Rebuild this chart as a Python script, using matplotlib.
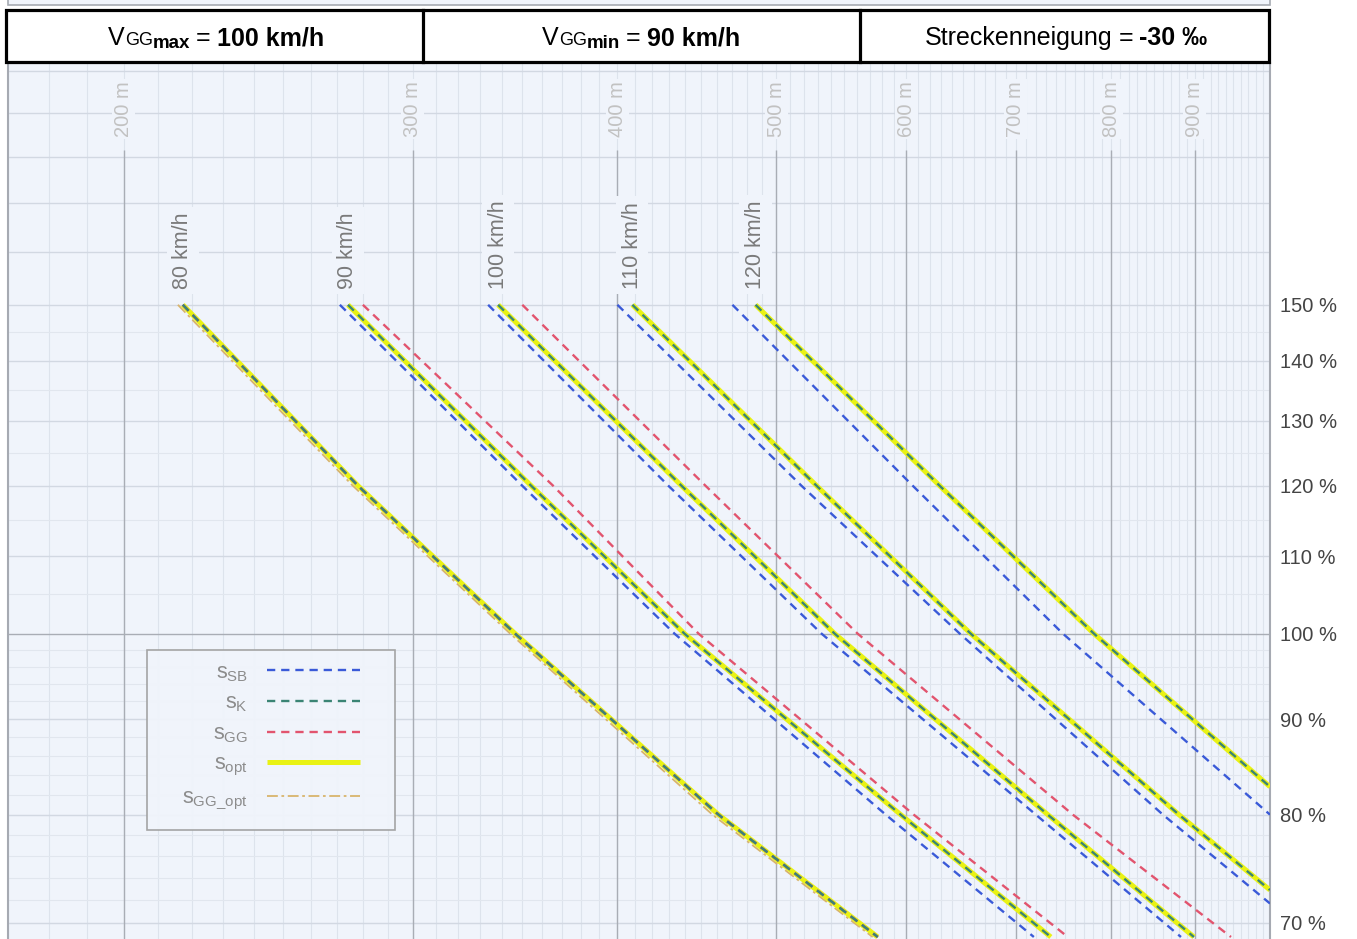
import numpy as np
import matplotlib.pyplot as plt
from matplotlib.patches import Rectangle
from matplotlib.ticker import FixedLocator, FixedFormatter, NullLocator

W, H = 1357, 939
FONT = ['Liberation Sans', 'DejaVu Sans']
plt.rcParams['font.family'] = FONT
plt.rcParams['mathtext.default'] = 'regular'

# speeds of the curve groups (km/h)
speeds = [80, 90, 100, 110, 120]

# braking distance (m) / brake percentage (%)
sb_x = [[217.3, 277.9, 346.5, 461.0, 576.5],
        [270.9, 350.0, 433.4, 583.0, 717.8],
        [333.6, 429.7, 532.8, 719.8, 882.5],
        [400.0, 518.0, 646.9, 860.4, 1000.0],
        [470.1, 605.6, 747.7, 1000.0]]
sb_y = [[150, 120, 100, 80, 68.8],
        [150, 120, 100, 80, 68.8],
        [150, 120, 100, 80, 68.8],
        [150, 120, 100, 80, 71.7],
        [150, 120, 100, 80]]

opt_x = [[217.3, 277.9, 346.5, 461.0, 576.5],
         [274.0, 354.4, 439.5, 595.4, 735.1],
         [338.3, 437.7, 542.7, 732.0, 898.7],
         [408.5, 529.1, 656.9, 880.0, 1000.0],
         [485.6, 628.9, 781.0, 1000.0]]
opt_y = [[150, 120, 100, 80, 68.8],
         [150, 120, 100, 80, 68.8],
         [150, 120, 100, 80, 68.8],
         [150, 120, 100, 80, 72.9],
         [150, 120, 100, 82.8]]

# s_K lies on top of s_opt
k_x = opt_x
k_y = opt_y

gg_x = [[217.3, 277.9, 346.5, 461.0, 576.5],
        [279.8, 365.5, 448.3, 606.4, 752.9],
        [350.0, 452.7, 560.5, 758.2, 946.7]]
gg_y = [[150, 120, 100, 80, 68.8],
        [150, 120, 100, 80, 68.8],
        [150, 120, 100, 80, 68.8]]

ggopt_x = [215.8, 275.9, 344.1, 457.1, 572.4]
ggopt_y = [150, 120, 100, 80, 68.8]

dist_ticks = [200, 300, 400, 500, 600, 700, 800, 900]
pct_ticks = [70, 80, 90, 100, 110, 120, 130, 140, 150]

BG = '#f0f4fb'
C_SB = '#3a5ad8'
C_K = '#3a8474'
C_GG = '#e2546e'
C_OPT = '#e9f214'
C_GGOPT = '#d8b46c'

fig = plt.figure(figsize=(W / 100, H / 100), dpi=100)
ax = fig.add_axes([8 / W, 0, 1262 / W, (H - 63) / H])
ax.set_facecolor(BG)
ax.set_xscale('log')
ax.set_yscale('log')
ax.set_xlim(170, 1000)
ax.set_ylim(68.63, 202.1)

# grid
ax.vlines(np.arange(170, 1001, 10), 60, 210, colors='#dde3ec', lw=0.8, zorder=0)
ax.hlines(np.arange(66, 100, 2), 150, 1100, colors='#e1e6ee', lw=0.8, zorder=0)
ax.hlines(np.arange(105, 150, 10), 150, 1100, colors='#e1e6ee', lw=0.8, zorder=0)
ax.hlines([70, 80, 90, 110, 120, 130, 140, 150, 160, 170, 180, 190, 200], 150, 1100,
          colors='#d2d8e2', lw=1.0, zorder=0)
ax.vlines(dist_ticks, 60, 181.6, colors='#a9adb5', lw=1.0, zorder=1)
ax.axhline(100, color='#a9adb5', lw=1.0, zorder=1)

for d in dist_ticks:
    ax.text(d, 191, f'{d} m', rotation=90, ha='center', va='center', fontsize=14.5,
            color='#c2c2c2', zorder=2,
            bbox=dict(facecolor=BG, edgecolor='none', pad=1.5))

# curves
ax.plot(ggopt_x, ggopt_y, color=C_GGOPT, lw=1.3, dashes=(6, 2, 1.5, 2), zorder=2,
        label=r'$s_{GG\_opt}$')
for i, v in enumerate(speeds):
    ax.plot(opt_x[i], opt_y[i], color=C_OPT, lw=3.6, solid_capstyle='butt', zorder=3,
            label=r'$s_{opt}$' if i == 0 else None)
    ax.plot(sb_x[i], sb_y[i], color=C_SB, lw=1.7, dashes=(3.5, 2.5), zorder=4,
            label=r'$s_{SB}$' if i == 0 else None)
    if i < len(gg_x):
        ax.plot(gg_x[i], gg_y[i], color=C_GG, lw=1.7, dashes=(3.5, 2.5), zorder=5,
                label=r'$s_{GG}$' if i == 0 else None)
    ax.plot(k_x[i], k_y[i], color=C_K, lw=1.7, dashes=(3.5, 2.5), zorder=6,
            label=r'$s_{K}$' if i == 0 else None)
    ax.text(opt_x[i][0], 153, f'{v} km/h', rotation=90, ha='center', va='bottom',
            fontsize=15.5, color='#7a7a7a', zorder=2,
            bbox=dict(facecolor=BG, edgecolor='none', pad=4))

# axes styling
ax.yaxis.tick_right()
ax.yaxis.set_major_locator(FixedLocator(pct_ticks))
ax.yaxis.set_major_formatter(FixedFormatter([f'{p} %' for p in pct_ticks]))
ax.yaxis.set_minor_locator(NullLocator())
ax.tick_params(axis='y', which='both', length=0, pad=7, labelsize=14.5, labelcolor='#444444')
ax.tick_params(axis='x', which='both', bottom=False, labelbottom=False)
for side in ['left', 'right', 'top']:
    ax.spines[side].set_color('#a6aab2')
    ax.spines[side].set_linewidth(1.5)
ax.spines['bottom'].set_visible(False)

# legend
ax.add_patch(Rectangle((147 / W, 1 - 830 / H), 248 / W, 180 / H, transform=fig.transFigure,
                       facecolor=BG, edgecolor='#a0a0a0', lw=1.2, alpha=0.95, zorder=7))
handles, labels = ax.get_legend_handles_labels()
order = [labels.index(l) for l in [r'$s_{SB}$', r'$s_{K}$', r'$s_{GG}$', r'$s_{opt}$', r'$s_{GG\_opt}$']]
leg = ax.legend([handles[j] for j in order], [labels[j] for j in order],
                loc='center right', bbox_to_anchor=(360 / W, 1 - 737 / H),
                bbox_transform=fig.transFigure, frameon=False, markerfirst=False,
                fontsize=15.5, labelcolor='#8c8c8c', handlelength=4.3, handletextpad=0.9,
                borderpad=0, borderaxespad=0, labelspacing=0.42)
leg.set_zorder(8)

# top strip of the previous panel
fig.add_artist(Rectangle((8 / W, 1 - 5 / H), 1262 / W, 12 / H, transform=fig.transFigure,
                         facecolor=BG, edgecolor='#a6aab2', lw=1.2, clip_on=False))

# header table
fig.add_artist(Rectangle((6 / W, 1 - 62 / H), 1263 / W, 52 / H, transform=fig.transFigure,
                         facecolor='white', edgecolor='black', lw=2.3))
for xd in [423, 860]:
    fig.add_artist(plt.Line2D([xd / W, xd / W], [1 - 62 / H, 1 - 10 / H],
                              transform=fig.transFigure, color='black', lw=2.3))


def rich_text(cx, base, pieces):
    r = fig.canvas.get_renderer()
    items, x = [], 0.0
    for s, size, weight, dy, gap in pieces:
        t = fig.text(0, 0, s, fontsize=size, fontweight=weight, ha='left', va='baseline',
                     color='black')
        w = t.get_window_extent(renderer=r).width
        items.append((t, x, dy))
        x += w + gap
    x0 = cx - x / 2
    for t, xo, dy in items:
        t.set_position(((x0 + xo) / W, 1 - (base + dy) / H))


rich_text(216, 45, [('V', 18, 'normal', 0, 0), ('GG', 13, 'normal', 0, 0),
                    ('max', 13.5, 'bold', 3, 6), ('=', 18, 'normal', 0, 6),
                    ('100 km/h', 18, 'bold', 0, 0)])
rich_text(641, 45, [('V', 18, 'normal', 0, 0), ('GG', 13, 'normal', 0, 0),
                    ('min', 13.5, 'bold', 3, 6), ('=', 18, 'normal', 0, 6),
                    ('90 km/h', 18, 'bold', 0, 0)])
rich_text(1066, 45, [('Streckenneigung', 18, 'normal', 0, 6), ('=', 18, 'normal', 0, 6),
                     ('-30 ‰', 18, 'bold', 0, 0)])

fig.savefig('out.png', dpi=100)
